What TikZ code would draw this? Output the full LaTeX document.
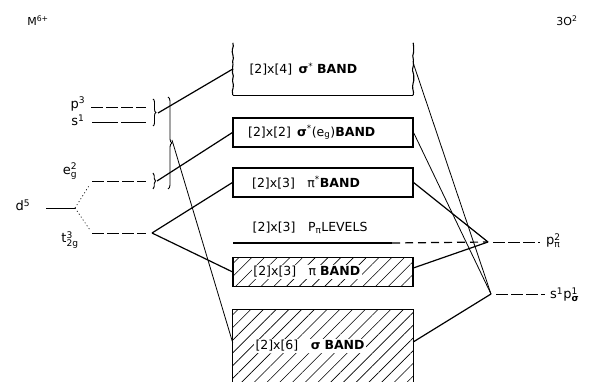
\documentclass[tikz,border=0pt]{standalone}
\usepackage{fontspec}
\setmainfont{DejaVu Sans}
\usepackage{amsmath}
\usetikzlibrary{positioning, patterns.meta, decorations.pathreplacing, decorations.pathmorphing}

\begin{document}
\begin{tikzpicture}[x=1pt, y=-1pt,
  band/.style={draw, line width=1.1pt, minimum width=180pt, minimum height=29pt, inner sep=0pt},
  bandline/.style={line width=1.1pt},
  wavy/.style={line width=1.1pt, decorate, decoration={random steps, segment length=3pt, amplitude=0.6pt}},
  hatch/.style={pattern={Lines[angle=45, distance=9pt, line width=0.6pt]}},
  blbl/.style={font=\fontsize{12.5}{15}\selectfont, fill=white, inner sep=1.5pt},
  orb/.style={font=\fontsize{13}{15}\selectfont, inner sep=0pt},
  lvl/.style={line width=0.9pt, dash pattern=on 12pt off 3pt},
  conn/.style={line width=0.8pt},
  bconn/.style={line width=1.2pt},
  split/.style={line width=0.7pt, dash pattern=on 1pt off 2.5pt},
  brc/.style={decorate, decoration={brace, amplitude=#1}, line width=0.9pt}
]
\useasboundingbox (0,0) rectangle (589,382);

% ions
\node[orb, font=\fontsize{11}{13}\selectfont] (mion) at (38,21) {M$^{\text{6+}}$};
\node[orb, font=\fontsize{11}{13}\selectfont] (oion) at (567,21) {3O$^{\text{2}}$};

% sigma* band (open top)
\node[minimum width=180pt, minimum height=52pt, inner sep=0pt] (sgs) at (323,69) {};
\draw[wavy] (sgs.north west) -- (sgs.south west);
\draw[bandline] (sgs.south west) -- (sgs.south east);
\draw[wavy] (sgs.south east) -- (sgs.north east);
\node[blbl, right=15pt of sgs.west] (sgsl) {[2]x[4]\enspace\textbf{σ}$^{\text{*}}$ \textbf{BAND}};

% closed bands
\node[band] (sge) at (323,132.5) {};
\node[blbl, right=14pt of sge.west] (sgel) {[2]x[2]\enspace\textbf{σ}$^{\text{*}}$(e$_{\text{g}}$)\textbf{BAND}};
\node[band] (pis) at (323,182.5) {};
\node[blbl, right=18pt of pis.west] (pisl) {[2]x[3]\quad π$^{\text{*}}$\textbf{BAND}};

% p_pi levels
\node[blbl, anchor=west] (levl) at (251,228) {[2]x[3]\quad P$_{\text{π}}$LEVELS};
\coordinate (levA) at (233,243);
\coordinate (levB) at (392,243);
\draw[line width=1.3pt] (levA) -- (levB);

% filled bands
\node[band, hatch] (pib) at (323,272) {};
\node[blbl, right=19pt of pib.west] (pibl) {[2]x[3]\quad π \textbf{BAND}};
\node[hatch, minimum width=180pt, minimum height=72pt, inner sep=0pt] (sgb) at (323,346) {};
\draw[bandline] (sgb.south west) -- (sgb.north west) -- (sgb.north east) -- (sgb.south east);
\node[blbl, right=21pt of sgb.west] (sgbl) {[2]x[6]\quad\textbf{σ} \textbf{BAND}};

% metal levels
\coordinate (p3a) at (91,107);  \coordinate (p3b) at (146,107);
\coordinate (s1a) at (92,122);  \coordinate (s1b) at (146,122);
\coordinate (ega) at (92,181);  \coordinate (egb) at (146,181);
\coordinate (t2a) at (92,233);  \coordinate (t2b) at (146,233);
\coordinate (d5a) at (46,208);  \coordinate (d5b) at (75,208);
\draw[lvl] (p3a) -- (p3b);
\draw[lvl, dash pattern=on 26pt off 3pt] (s1a) -- (s1b);
\draw[lvl] (ega) -- (egb);
\draw[lvl] (t2a) -- (t2b);
\draw[line width=0.9pt] (d5a) -- (d5b);
\draw[split, shorten >=4pt] (d5b) -- (ega);
\draw[split, shorten >=4pt] (d5b) -- (t2a);

\node[orb] (p3) at (78,104) {p$^{\text{3}}$};
\node[orb] (s1) at (78,120) {s$^{\text{1}}$};
\node[orb] (eg) at (70,171) {e$_{\text{g}}^{\text{2}}$};
\node[orb] (d5) at (23,205) {d$^{\text{5}}$};
\node[orb] (t2g) at (70,240) {t$_{\text{2g}}^{\text{3}}$};

% braces
\coordinate (psT) at (153,99);   \coordinate (psB) at (153,126);
\coordinate (egT) at (153,173);  \coordinate (egB) at (153,189);
\coordinate (bigT) at (168,97);  \coordinate (bigB) at (168,189);
\draw[brc=3pt] (psT) -- (psB);
\draw[brc=2.5pt] (egT) -- (egB);
\draw[brc=4pt] (bigT) -- (bigB);
\coordinate (psX) at (158,113);
\coordinate (egX) at (157,181);
\coordinate (bigX) at (172,140);
\coordinate (t2v) at (152,233);

% metal to bands
\draw[bconn] (psX) -- (sgs.west);
\draw[bconn] (egX) -- (sge.west);
\draw[conn] (bigX) -- ([yshift=3pt]sgb.west);
\draw[bconn] (t2v) -- (pis.west);
\draw[bconn] (t2v) -- (pib.west);

% oxygen levels
\coordinate (ppi) at (488,242);  \coordinate (ppiR) at (540,242);
\coordinate (ssg) at (491,294);  \coordinate (ssgR) at (545,294);
\draw[lvl, shorten <=5pt] (ppi) -- (ppiR);
\draw[lvl, shorten <=5pt] (ssg) -- (ssgR);
\node[orb, anchor=west] (ppil) at (546,241) {p$_{\text{π}}^{\text{2}}$};
\node[orb, anchor=west] (ssgl) at (550,295) {s$^{\text{1}}$p$_{\textbf{σ}}^{\text{1}}$};

% oxygen to bands
\draw[line width=1.2pt, dash pattern=on 8pt off 5pt] (levB) -- (ppi);
\draw[bconn] (pis.east) -- (ppi);
\draw[bconn] ([yshift=4pt]pib.east) -- (ppi);
\draw[conn] ([yshift=6pt]sgs.east) -- (ssg);
\draw[conn] (sge.east) -- (ssg);
\draw[bconn] ([yshift=4pt]sgb.east) -- (ssg);
\end{tikzpicture}
\end{document}
